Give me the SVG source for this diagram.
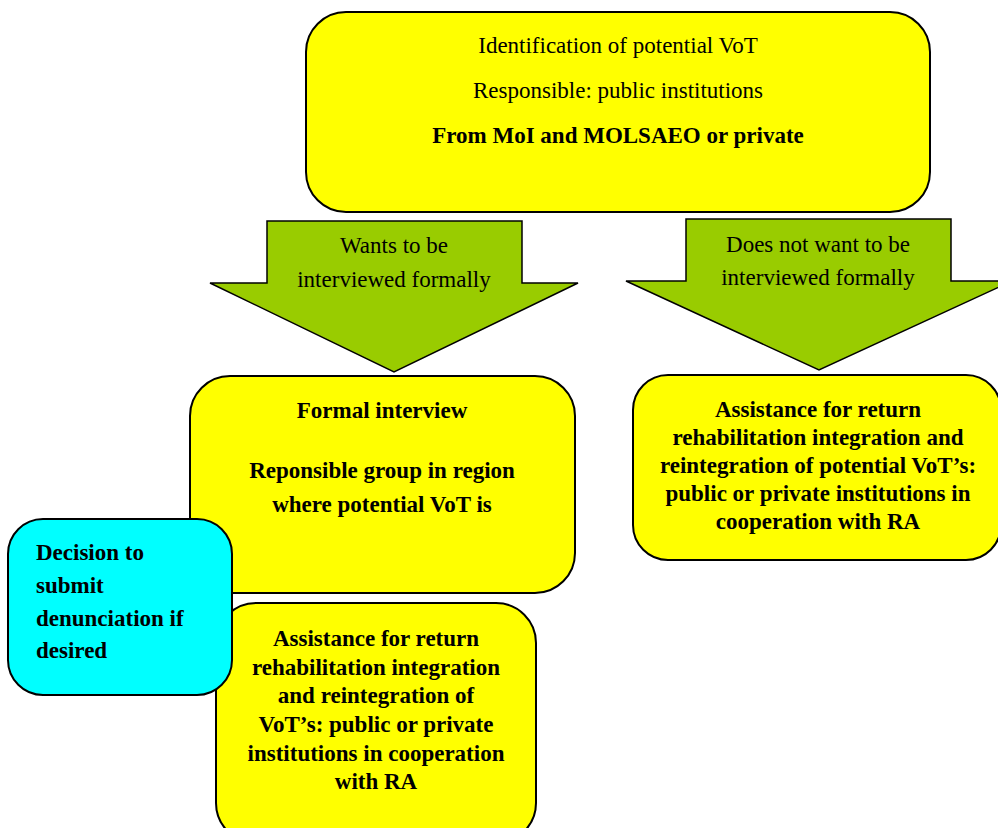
<svg xmlns="http://www.w3.org/2000/svg" width="998" height="828" viewBox="0 0 998 828">
<style>
.box{stroke:#000;stroke-width:2;}
.y{fill:#FFFF00;}
.c{fill:#00FFFF;}
.arr{fill:#99CC00;stroke:#000;stroke-width:1.5;stroke-linejoin:miter;}
text{font-family:"Liberation Serif","Times New Roman",serif;font-size:23px;fill:#000;}
.m{text-anchor:middle;}
.b{font-weight:bold;}
</style>
<rect width="998" height="828" fill="#fff"/>
<g id="connectors">
  <g id="arrow-wants">
    <polygon class="arr" points="267,221 522,221 522,283 578,283 394,372 210,283 267,283"/>
    <text class="m" x="394" y="253">Wants to be</text>
    <text class="m" x="394" y="287">interviewed formally</text>
  </g>
  <g id="arrow-not">
    <polygon class="arr" points="686,219 951,219 951,281 1012,281 819,370 626,281 686,281"/>
    <text class="m" x="818" y="252">Does not want to be</text>
    <text class="m" x="818" y="285">interviewed formally</text>
  </g>
</g>
<g id="identification">
  <rect class="box y" x="306" y="12" width="624" height="200" rx="40" ry="40"/>
  <text class="m" x="618" y="53">Identification of potential VoT</text>
  <text class="m" x="618" y="98">Responsible: public institutions</text>
  <text class="m b" x="618" y="143">From MoI and MOLSAEO or private</text>
</g>
<g id="formal-interview">
  <rect class="box y" x="190" y="376" width="385" height="217" rx="40" ry="40"/>
  <text class="m b" x="382" y="418">Formal interview</text>
  <text class="m b" x="382" y="478">Reponsible group in region</text>
  <text class="m b" x="382" y="512">where potential VoT is</text>
</g>
<g id="assistance-potential">
  <rect class="box y" x="633" y="375" width="368" height="185" rx="35" ry="35"/>
  <text class="m b" x="818" y="417">Assistance for return</text>
  <text class="m b" x="818" y="445">rehabilitation integration and</text>
  <text class="m b" x="818" y="473">reintegration of potential VoT’s:</text>
  <text class="m b" x="818" y="501">public or private institutions in</text>
  <text class="m b" x="818" y="529">cooperation with RA</text>
</g>
<g id="assistance-vot">
  <rect class="box y" x="216" y="603" width="320" height="240" rx="40" ry="40"/>
  <text class="m b" x="376" y="646">Assistance for return</text>
  <text class="m b" x="376" y="675">rehabilitation integration</text>
  <text class="m b" x="376" y="703">and reintegration of</text>
  <text class="m b" x="376" y="732">VoT’s: public or private</text>
  <text class="m b" x="376" y="761">institutions in cooperation</text>
  <text class="m b" x="376" y="789">with RA</text>
</g>
<g id="decision">
  <rect class="box c" x="8" y="519" width="224" height="176" rx="35" ry="35"/>
  <text class="b" x="36" y="560">Decision to</text>
  <text class="b" x="36" y="593">submit</text>
  <text class="b" x="36" y="626">denunciation if</text>
  <text class="b" x="36" y="658">desired</text>
</g>
</svg>
